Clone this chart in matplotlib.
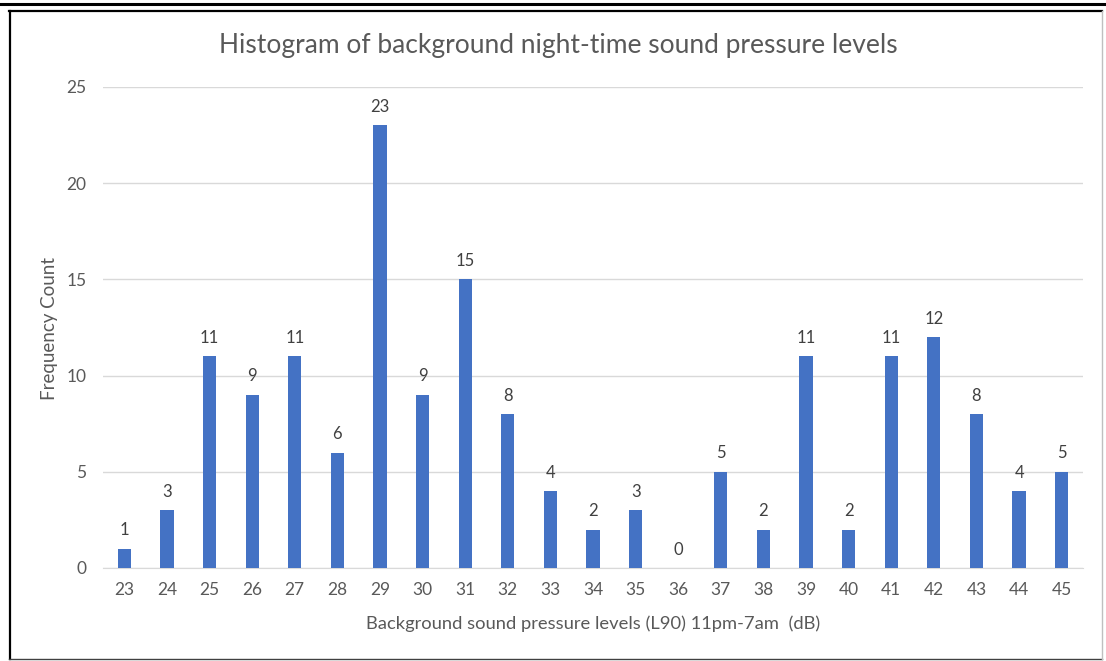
import numpy as np
import matplotlib.pyplot as plt
from matplotlib.lines import Line2D

# sound pressure level bins (dB) and how many nights fell in each
levels = list(range(23, 46))
counts = [1, 3, 11, 9, 11, 6, 23, 9, 15, 8, 4, 2, 3, 0, 5, 2, 11, 2, 11, 12, 8, 4, 5]
y_ticks = [0, 5, 10, 15, 20, 25]

BAR = '#4472C4'
TEXT = '#595959'
GRID = '#D9D9D9'

plt.rcParams['font.family'] = ['Lato', 'DejaVu Sans']

fig = plt.figure(figsize=(11.06, 6.61), dpi=100)
ax = fig.add_axes([103 / 1106, 1 - 568 / 661, 980 / 1106, 481 / 661])

x = np.arange(len(levels))
ax.bar(x, counts, width=0.31, color=BAR, zorder=3)
for xi, c in zip(x, counts):
    ax.annotate(str(c), (xi, c), xytext=(0, 7.5), textcoords='offset points',
                ha='center', va='bottom', fontsize=12, color='#404040')

ax.set_xlim(-0.5, len(levels) - 0.5)
ax.set_ylim(0, 25)
ax.set_yticks(y_ticks)
ax.set_xticks(x)
ax.set_xticklabels([str(v) for v in levels])
ax.yaxis.grid(True, color=GRID, linewidth=1, zorder=0)
for side in ['top', 'right', 'left']:
    ax.spines[side].set_visible(False)
ax.spines['bottom'].set_color(GRID)
ax.tick_params(axis='both', length=0, labelsize=12.5, colors=TEXT)
ax.tick_params(axis='x', pad=10)
ax.tick_params(axis='y', pad=12)

fig.text(558 / 1106, 1 - 45 / 661, 'Histogram of background night-time sound pressure levels',
         ha='center', va='center', fontsize=19, color=TEXT)
fig.text(593 / 1106, 1 - 624 / 661, 'Background sound pressure levels (L90) 11pm-7am  (dB)',
         ha='center', va='center', fontsize=13.2, color=TEXT)
fig.text(50 / 1106, 1 - 329 / 661, 'Frequency Count', rotation=90,
         ha='center', va='center', fontsize=13.5, color=TEXT)

# screenshot frame
fig.add_artist(Line2D([0, 1], [1 - 3.5 / 661] * 2, color='black', linewidth=2.2))
fig.add_artist(Line2D([9 / 1106, 1102 / 1106], [1 - 11 / 661] * 2, color='black', linewidth=1.6))
fig.add_artist(Line2D([9.5 / 1106] * 2, [1 - 11 / 661, 1 - 659 / 661], color='black', linewidth=1.6))
fig.add_artist(Line2D([9 / 1106, 1102 / 1106], [1 - 659 / 661] * 2, color='#404040', linewidth=1.0))
fig.add_artist(Line2D([1102 / 1106] * 2, [1 - 11 / 661, 1 - 659 / 661], color='#BFBFBF', linewidth=1.0))

fig.savefig('out.png', dpi=100)
